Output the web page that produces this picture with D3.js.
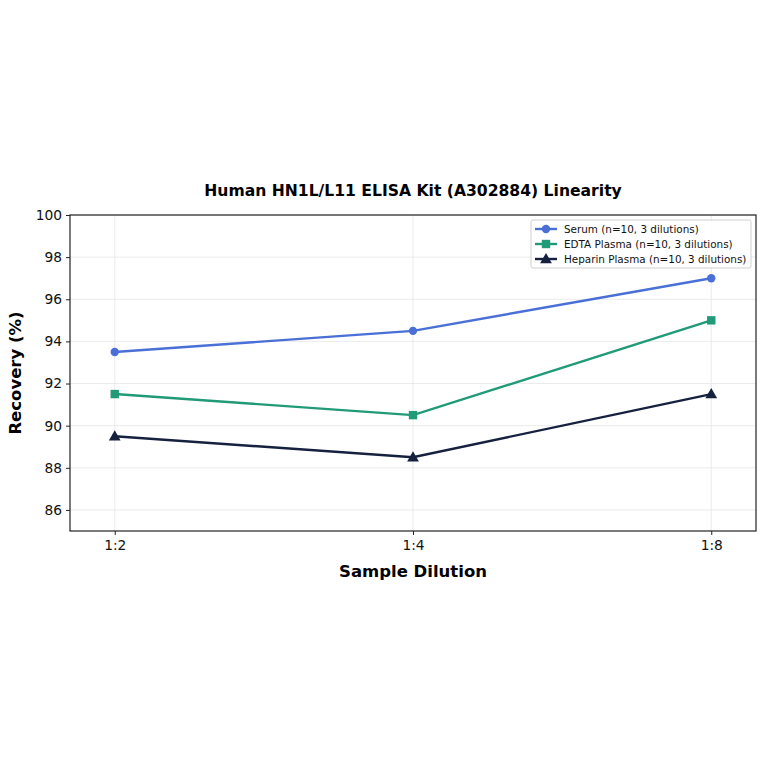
<!DOCTYPE html>
<html><head><meta charset="utf-8">
<script src="https://cdn.jsdelivr.net/npm/d3@7"></script>
<style>body{margin:0;background:#fff}svg{display:block}text{font-family:"DejaVu Sans",sans-serif}</style>
</head><body><svg id="c" width="764" height="764"></svg>
<script>
const categories = ["1:2", "1:4", "1:8"];
const serum = [93.5, 94.5, 97.0];
const edta = [91.5, 90.5, 95.0];
const heparin = [89.5, 88.5, 91.5];
const yTicks = [86, 88, 90, 92, 94, 96, 98, 100];
const seriesNames = ["Serum (n=10, 3 dilutions)", "EDTA Plasma (n=10, 3 dilutions)", "Heparin Plasma (n=10, 3 dilutions)"];

const series = [
  {name: seriesNames[0], values: serum, color: "#4a6fd6", marker: "circle"},
  {name: seriesNames[1], values: edta, color: "#219a78", marker: "square"},
  {name: seriesNames[2], values: heparin, color: "#16213f", marker: "triangle"}
];

const svg = d3.select("#c");
const L = 70, R = 756, T = 215, B = 531;
const x = d3.scaleLinear().domain([-0.15, 2.15]).range([L, R]);
const y = d3.scaleLinear().domain([85, 100]).range([B, T]);

// grid
const g = svg.append("g");
g.selectAll(".gy").data(yTicks).enter().append("line")
  .attr("x1", L).attr("x2", R).attr("y1", d => y(d)).attr("y2", d => y(d))
  .attr("stroke", "#e6e6e6").attr("stroke-width", 0.8);
g.selectAll(".gx").data(categories).enter().append("line")
  .attr("x1", (d, i) => x(i)).attr("x2", (d, i) => x(i)).attr("y1", T).attr("y2", B)
  .attr("stroke", "#e6e6e6").attr("stroke-width", 0.8);

// axes
const yAxis = d3.axisLeft(y).tickValues(yTicks).tickSize(4).tickPadding(4);
const ya = svg.append("g").attr("transform", `translate(${L},0)`).call(yAxis);
const xAxis = d3.axisBottom(x).tickValues([0, 1, 2]).tickFormat(i => categories[i]).tickSize(4).tickPadding(5);
const xa = svg.append("g").attr("transform", `translate(0,${B})`).call(xAxis);
[ya, xa].forEach(a => {
  a.select(".domain").remove();
  a.selectAll("text").attr("font-size", 13.8).attr("fill", "#111").style("font-family", "DejaVu Sans");
  a.selectAll("line").attr("stroke", "#222");
});
svg.append("rect").attr("x", L).attr("y", T).attr("width", R - L).attr("height", B - T)
  .attr("fill", "none").attr("stroke", "#222").attr("stroke-width", 1.2);

// lines
const line = d3.line().x((d, i) => x(i)).y(d => y(d));
function drawMarker(sel, type, color, cx, cy) {
  if (type === "circle") sel.append("circle").attr("cx", cx).attr("cy", cy).attr("r", 4.2).attr("fill", color);
  else if (type === "square") sel.append("rect").attr("x", cx - 4.2).attr("y", cy - 4.2).attr("width", 8.4).attr("height", 8.4).attr("fill", color);
  else sel.append("path").attr("d", d3.symbol().type(d3.symbolTriangle).size(60)()).attr("transform", `translate(${cx},${cy + 0.8})`).attr("fill", color);
}
series.forEach(s => {
  svg.append("path").datum(s.values).attr("d", line).attr("fill", "none")
    .attr("stroke", s.color).attr("stroke-width", 2.4);
  const mg = svg.append("g");
  s.values.forEach((v, i) => drawMarker(mg, s.marker, s.color, x(i), y(v)));
});

// title & labels
svg.append("text").attr("x", (L + R) / 2).attr("y", 196).attr("text-anchor", "middle")
  .attr("font-size", 15.6).attr("font-weight", "bold").text("Human HN1L/L11 ELISA Kit (A302884) Linearity");
svg.append("text").attr("x", (L + R) / 2).attr("y", 577).attr("text-anchor", "middle")
  .attr("font-size", 16.5).attr("font-weight", "bold").text("Sample Dilution");
svg.append("text").attr("transform", `translate(21,${(T + B) / 2}) rotate(-90)`).attr("text-anchor", "middle")
  .attr("font-size", 16.5).attr("font-weight", "bold").text("Recovery (%)");

// legend
const lg = svg.append("g");
lg.append("rect").attr("x", 531).attr("y", 220).attr("width", 220).attr("height", 48).attr("rx", 2)
  .attr("fill", "#fff").attr("fill-opacity", 0.85).attr("stroke", "#d0d0d0");
series.forEach((s, i) => {
  const yy = 229 + i * 15;
  lg.append("line").attr("x1", 535).attr("x2", 557).attr("y1", yy).attr("y2", yy).attr("stroke", s.color).attr("stroke-width", 2.4);
  drawMarker(lg, s.marker, s.color, 546, yy);
  lg.append("text").attr("x", 564).attr("y", yy + 4).attr("font-size", 10.4).attr("fill", "#111").text(s.name);
});
</script></body></html>
